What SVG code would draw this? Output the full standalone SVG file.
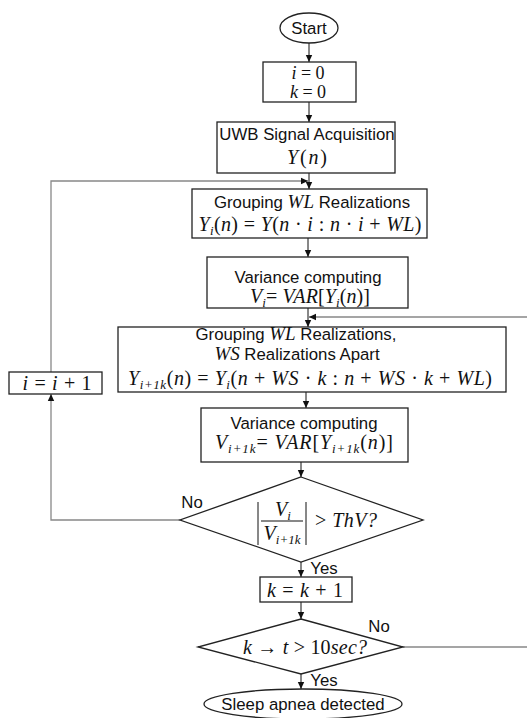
<svg xmlns="http://www.w3.org/2000/svg" width="527" height="718" viewBox="0 0 527 718">
<style>
.box{fill:#fff;stroke:#222;stroke-width:1.3}
.t{font-family:"Liberation Sans",Arial,sans-serif;font-size:16.8px;fill:#111;text-anchor:middle}
.m{font-family:"Liberation Serif","Times New Roman",serif;font-size:20px;font-style:italic;fill:#111;text-anchor:middle}
.mi{font-family:"Liberation Serif","Times New Roman",serif;font-size:19px;font-style:italic}
.u{font-style:normal}
.s{font-size:13px}
.sm{font-size:18px}
.c{fill:none;stroke:#111;stroke-width:1}
.g{fill:none;stroke:#888;stroke-width:1.3}
</style>
<defs>
<marker id="ah" markerWidth="8" markerHeight="8" refX="7" refY="4" orient="auto" markerUnits="userSpaceOnUse">
<path d="M0,0.8 L7,4 L0,7.2 Z" fill="#111"/>
</marker>
</defs>
<rect width="527" height="718" fill="#fff"/>
<g id="connectors">
<line class="c" x1="309" y1="43" x2="309" y2="62" marker-end="url(#ah)"/>
<line class="c" x1="309" y1="102" x2="309" y2="122" marker-end="url(#ah)"/>
<line class="c" x1="309" y1="173" x2="309" y2="189" marker-end="url(#ah)"/>
<line class="c" x1="308" y1="238" x2="308" y2="257" marker-end="url(#ah)"/>
<line class="c" x1="308" y1="308" x2="308" y2="327" marker-end="url(#ah)"/>
<line class="c" x1="306" y1="392" x2="306" y2="408" marker-end="url(#ah)"/>
<line class="c" x1="301" y1="462" x2="301" y2="477" marker-end="url(#ah)"/>
<line class="c" x1="301" y1="562" x2="301" y2="577" marker-end="url(#ah)"/>
<line class="c" x1="301" y1="602" x2="301" y2="619" marker-end="url(#ah)"/>
<line class="c" x1="301" y1="674" x2="301" y2="689" marker-end="url(#ah)"/>
<polyline class="g" points="180,520 51,520 51,394" marker-end="url(#ah)"/>
<polyline class="g" points="51,372 51,181 308,181" marker-end="url(#ah)"/>
<polyline class="g" points="403,647 529,647 529,317 309,317" marker-end="url(#ah)"/>
<text class="t" x="192" y="508">No</text>
<text class="t" x="324" y="574">Yes</text>
<text class="t" x="379" y="632">No</text>
<text class="t" x="324" y="686">Yes</text>
</g>
<g id="start">
<ellipse class="box" cx="309" cy="28" rx="29" ry="15"/>
<text class="t" x="309" y="34">Start</text>
</g>
<g id="init">
<rect class="box" x="263" y="62" width="93" height="40"/>
<text class="m sm" x="308" y="79">i<tspan class="u"> = 0</tspan></text>
<text class="m sm" x="308" y="98">k<tspan class="u"> = 0</tspan></text>
</g>
<g id="uwb">
<rect class="box" x="217" y="122" width="178" height="51"/>
<text class="t" x="307" y="140">UWB Signal Acquisition</text>
<text class="m" x="307" y="164" textLength="40" lengthAdjust="spacing">Y<tspan class="u">(</tspan>n<tspan class="u">)</tspan></text>
</g>
<g id="group1">
<rect class="box" x="192" y="189" width="235" height="49"/>
<text class="t" x="312" y="208">Grouping <tspan class="mi">WL</tspan> Realizations</text>
<text class="m" x="310" y="231" textLength="223" lengthAdjust="spacing">Y<tspan class="s" dy="4">i</tspan><tspan class="u" dy="-4">(</tspan>n<tspan class="u">) = </tspan>Y<tspan class="u">(</tspan>n<tspan class="u"> · </tspan>i<tspan class="u"> : </tspan>n<tspan class="u"> · </tspan>i<tspan class="u"> + </tspan>WL<tspan class="u">)</tspan></text>
</g>
<g id="var1">
<rect class="box" x="207" y="257" width="201" height="51"/>
<text class="t" x="308" y="283">Variance computing</text>
<text class="m" x="310" y="303" textLength="120" lengthAdjust="spacing">V<tspan class="s" dy="4">i</tspan><tspan class="u" dy="-4">= </tspan>VAR<tspan class="u">[</tspan>Y<tspan class="s" dy="4">i</tspan><tspan class="u" dy="-4">(</tspan>n<tspan class="u">)]</tspan></text>
</g>
<g id="group2">
<rect class="box" x="118" y="327" width="388" height="65"/>
<text class="t" x="296" y="340">Grouping <tspan class="mi">WL</tspan> Realizations,</text>
<text class="t" x="297" y="360"><tspan class="mi">WS</tspan> Realizations Apart</text>
<text class="m" x="310" y="385" textLength="364" lengthAdjust="spacing">Y<tspan class="s" dy="4">i+1k</tspan><tspan class="u" dy="-4">(</tspan>n<tspan class="u">) = </tspan>Y<tspan class="s" dy="4">i</tspan><tspan class="u" dy="-4">(</tspan>n<tspan class="u"> + </tspan>WS<tspan class="u"> · </tspan>k<tspan class="u"> : </tspan>n<tspan class="u"> + </tspan>WS<tspan class="u"> · </tspan>k<tspan class="u"> + </tspan>WL<tspan class="u">)</tspan></text>
</g>
<g id="inc-i">
<rect class="box" x="9" y="372" width="93" height="22"/>
<text class="m" x="57" y="390" textLength="69" lengthAdjust="spacing">i<tspan class="u"> = </tspan>i<tspan class="u"> + 1</tspan></text>
</g>
<g id="var2">
<rect class="box" x="201" y="408" width="207" height="54"/>
<text class="t" x="304" y="429">Variance computing</text>
<text class="m" x="304" y="449" textLength="178" lengthAdjust="spacing">V<tspan class="s" dy="4">i+1k</tspan><tspan class="u" dy="-4">= </tspan>VAR<tspan class="u">[</tspan>Y<tspan class="s" dy="4">i+1k</tspan><tspan class="u" dy="-4">(</tspan>n<tspan class="u">)]</tspan></text>
</g>
<g id="decision1">
<polygon class="box" points="301,477 423,520 301,562 180,520"/>
<line x1="258" y1="502" x2="258" y2="545" stroke="#111" stroke-width="1"/>
<line x1="306" y1="502" x2="306" y2="545" stroke="#111" stroke-width="1"/>
<line x1="261" y1="521" x2="303" y2="521" stroke="#111" stroke-width="1"/>
<text class="m" x="283" y="516">V<tspan class="s" dy="4">i</tspan></text>
<text class="m" x="282" y="540">V<tspan class="s" dy="4">i+1k</tspan></text>
<text class="m" x="346" y="527" textLength="62" lengthAdjust="spacing"><tspan class="u">&gt; </tspan>ThV?</text>
</g>
<g id="inc-k">
<rect class="box" x="260" y="577" width="92" height="25"/>
<text class="m" x="305" y="597" textLength="76" lengthAdjust="spacing">k<tspan class="u"> = </tspan>k<tspan class="u"> + 1</tspan></text>
</g>
<g id="decision2">
<polygon class="box" points="301,619 403,647 301,674 198,647"/>
<text class="m" x="305" y="654" textLength="124" lengthAdjust="spacing">k<tspan class="u"> → </tspan>t<tspan class="u"> &gt; 10</tspan>sec?</text>
</g>
<g id="end">
<ellipse class="box" cx="303" cy="704" rx="99" ry="15"/>
<text class="t" x="303" y="710">Sleep apnea detected</text>
</g>
</svg>
